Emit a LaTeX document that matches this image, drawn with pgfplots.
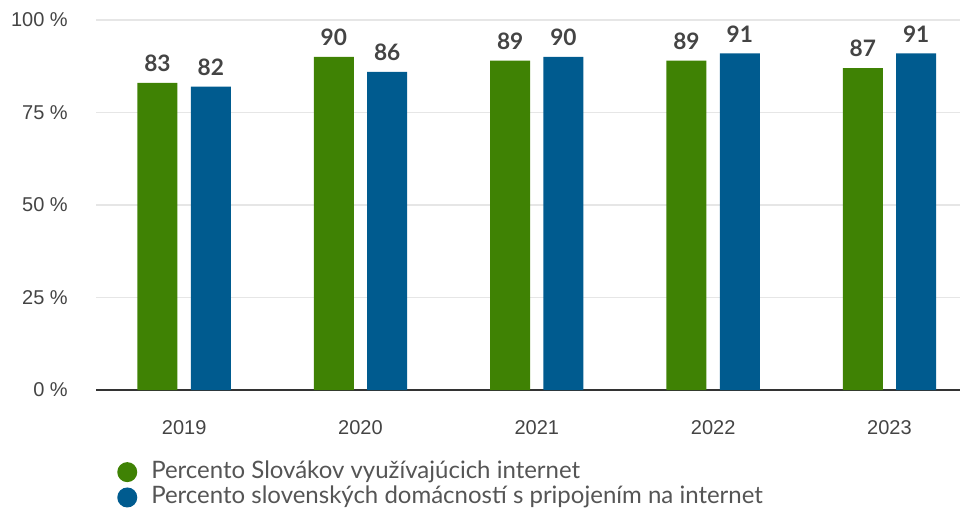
\documentclass[border=0pt]{standalone}
\usepackage{fontspec}
\setmainfont{Liberation Sans}
\newfontfamily\lato{Lato}
\usepackage{pgfplots}
\pgfplotsset{compat=1.18}
\definecolor{cgreen}{HTML}{3F8204}
\definecolor{cblue}{HTML}{005B8F}
\definecolor{ctext}{HTML}{444444}
\definecolor{clegend}{HTML}{555555}
\definecolor{cgrid}{HTML}{E6E6E6}
\definecolor{caxis}{HTML}{333333}

\begin{document}
\begin{tikzpicture}
\begin{axis}[
  at={(0pt,0pt)}, anchor=south west,
  scale only axis, width=648pt, height=277.5pt,
  xmin=-0.5, xmax=4.4, ymin=0, ymax=100,
  ybar=10pt, bar width=30pt,
  xtick={0,1,2,3,4}, xticklabels={2019,2020,2021,2022,2023},
  ytick={0,25,50,75,100},
  yticklabel={\pgfmathprintnumber{\tick}~\%},
  /pgf/number format/assume math mode=true,
  tick label style={font=\fontsize{15}{18}\selectfont, text=ctext},
  major tick length=0pt,
  tick style={draw=none},
  yticklabel style={inner sep=0pt, anchor=east, xshift=-21pt},
  xticklabel style={inner sep=0pt, anchor=north, yshift=-23pt},
  axis x line*=bottom, axis y line*=left,
  y axis line style={draw=none},
  x axis line style={draw=caxis, line width=1.1pt, -},
  ymajorgrids, grid style={draw=cgrid, line width=0.8pt},
  nodes near coords,
  every node near coord/.append style={
    font=\lato\bfseries\fontsize{17}{20}\selectfont, text=ctext,
    fill=white, inner xsep=2pt, inner ysep=2pt, minimum width=30pt,
    anchor=south, yshift=6pt},
  legend style={
    at={(0.0243,-0.187)}, anchor=north west, draw=none, fill=none,
    inner sep=0pt, row sep=0pt, column sep=8.5pt,
    font=\lato\fontsize{18}{21}\selectfont, text=clegend,
    nodes={inner xsep=2pt, inner ysep=0pt, text height=14pt, text depth=5pt}},
  legend cell align=left,
]
\addplot[fill=cgreen, draw=none,
  legend image code/.code={\fill[cgreen] (7.5pt,0pt) circle (7.5pt);}]
  coordinates {(0,83) (1,90) (2,89) (3,89) (4,87)};
\addlegendentry{Percento Slovákov využívajúcich internet}
\addplot[fill=cblue, draw=none,
  legend image code/.code={\fill[cblue] (7.5pt,0pt) circle (7.5pt);}]
  coordinates {(0,82) (1,86) (2,90) (3,91) (4,91)};
\addlegendentry{Percento slovenských domácností s pripojením na internet}
\end{axis}
\pgfresetboundingbox
\path[use as bounding box] (-72pt,-87.75pt) rectangle (654.75pt,292.5pt);
\end{tikzpicture}
\end{document}
